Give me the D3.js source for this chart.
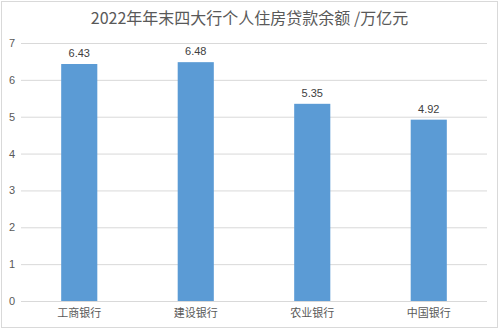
<!DOCTYPE html>
<html lang="en">
<head>
  <meta charset="utf-8">
  <script src="https://d3js.org/d3.v7.min.js"></script>
  <style>
    body{margin:0;background:#fff;overflow:hidden;}
    svg{display:block;font-family:"Noto Sans CJK SC","Noto Sans",sans-serif;}
  </style>
</head>
<body>
  <svg width="499" height="329"></svg>
  <script>
    // data
    var banks = ["工商银行", "建设银行", "农业银行", "中国银行"];
    var loans = [6.43, 6.48, 5.35, 4.92];
    var yTicks = [0, 1, 2, 3, 4, 5, 6, 7];

    var svg = d3.select("svg"),
        width = +svg.attr("width"),
        height = +svg.attr("height");

    var margin = {top: 43, right: 12, bottom: 28, left: 21};

    // outer frame
    svg.append("rect")
        .attr("x", 1.5).attr("y", 1.5)
        .attr("width", width - 3).attr("height", height - 3)
        .attr("fill", "#fff")
        .attr("stroke", "#d9d9d9");

    var x = d3.scaleBand()
        .domain(banks)
        .range([margin.left, width - margin.right])
        .paddingInner(0.69)
        .paddingOuter(0.345);

    var y = d3.scaleLinear()
        .domain([0, 7])
        .range([height - margin.bottom, margin.top]);

    // gridlines
    svg.append("g")
        .selectAll("line")
        .data(yTicks)
        .enter().append("line")
          .attr("x1", margin.left)
          .attr("x2", width - margin.right)
          .attr("y1", function(d){ return y(d) + 0.5; })
          .attr("y2", function(d){ return y(d) + 0.5; })
          .attr("stroke", "#d9d9d9")
          .attr("stroke-width", 1);

    // y labels
    var yAxis = svg.append("g")
        .attr("transform", "translate(" + (margin.left - 6) + ",0)")
        .call(d3.axisLeft(y).tickValues(yTicks).tickSize(0).tickPadding(0).tickFormat(d3.format("d")));
    yAxis.select(".domain").remove();
    yAxis.selectAll("text")
        .attr("fill", "#595959")
        .style("font-family", "'Liberation Sans', Arial, sans-serif")
        .style("font-size", "11px");

    // bars
    svg.append("g")
        .selectAll("rect")
        .data(banks)
        .enter().append("rect")
          .attr("x", function(d){ return x(d); })
          .attr("y", function(d, i){ return y(loans[i]); })
          .attr("width", x.bandwidth())
          .attr("height", function(d, i){ return y(0) - y(loans[i]); })
          .attr("fill", "#5b9bd5");

    // value labels
    svg.append("g")
        .selectAll("text")
        .data(banks)
        .enter().append("text")
          .attr("x", function(d){ return x(d) + x.bandwidth() / 2; })
          .attr("y", function(d, i){ return y(loans[i]) - 7; })
          .attr("text-anchor", "middle")
          .attr("fill", "#404040")
          .style("font-family", "'Liberation Sans', Arial, sans-serif")
          .style("font-size", "11px")
          .text(function(d, i){ return loans[i].toFixed(2); });

    // x labels
    var xAxis = svg.append("g")
        .attr("transform", "translate(0," + y(0) + ")")
        .call(d3.axisBottom(x).tickSize(0).tickPadding(8));
    xAxis.select(".domain").remove();
    xAxis.selectAll("text")
        .attr("fill", "#595959")
        .style("font-family", "'Noto Sans CJK SC', sans-serif")
        .style("font-size", "11px");

    // title
    svg.append("text")
        .attr("x", width / 2)
        .attr("y", 24)
        .attr("text-anchor", "middle")
        .attr("fill", "#595959")
        .style("font-size", "16px")
        .text("2022年年末四大行个人住房贷款余额 /万亿元");
  </script>
</body>
</html>
